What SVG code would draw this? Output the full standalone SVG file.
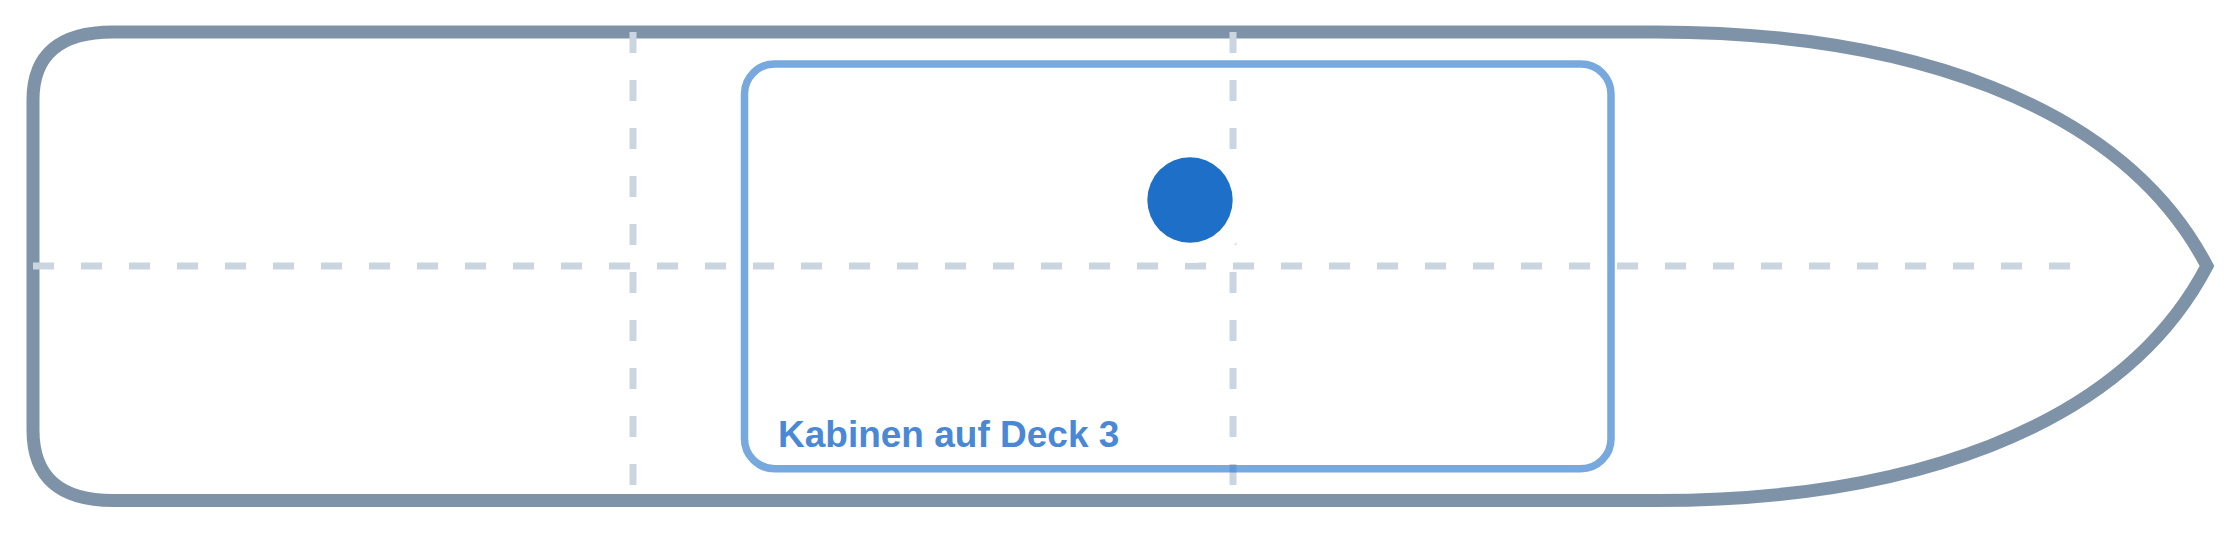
<svg xmlns="http://www.w3.org/2000/svg" width="2240" height="533" viewBox="0 0 2240 533">
  <style>
    .hull { fill: #ffffff; stroke: #7f93a8; stroke-width: 13; stroke-linejoin: miter; }
    .grid { stroke: #cbd5e0; stroke-width: 7; stroke-dasharray: 21 27; fill: none; }
    .zone { fill: none; stroke: #1e6fc8; stroke-opacity: 0.6; stroke-width: 7.5; }
    .label { font-family: "Liberation Sans", Arial, sans-serif; font-weight: bold; font-size: 37px; fill: #4a88d6; }
  </style>
  <g id="hull">
    <path class="hull" d="M 113 32 L 1657 32 C 1900 32 2120 100 2207 266 C 2120 432.5 1900 500.5 1657 500.5 L 113 500.5 Q 33 500.5 33 430 L 33 100 Q 33 32 113 32 Z"/>
  </g>
  <g id="connectors">
    <line class="grid" x1="33" y1="266" x2="2070" y2="266"/>
    <line class="grid" x1="633" y1="32" x2="633" y2="500"/>
    <line class="grid" x1="1233" y1="32" x2="1233" y2="500"/>
  </g>
  <g id="zone-deck3">
    <rect class="zone" x="744.5" y="64" width="866.5" height="404.7" rx="30" ry="30"/>
    <text class="label" x="778" y="446.7">Kabinen auf Deck 3</text>
  </g>
  <g id="marker">
    <circle cx="1190" cy="200" r="63" fill="#ffffff"/>
    <circle cx="1190" cy="200" r="42.7" fill="#1e6fc8"/>
  </g>
</svg>
